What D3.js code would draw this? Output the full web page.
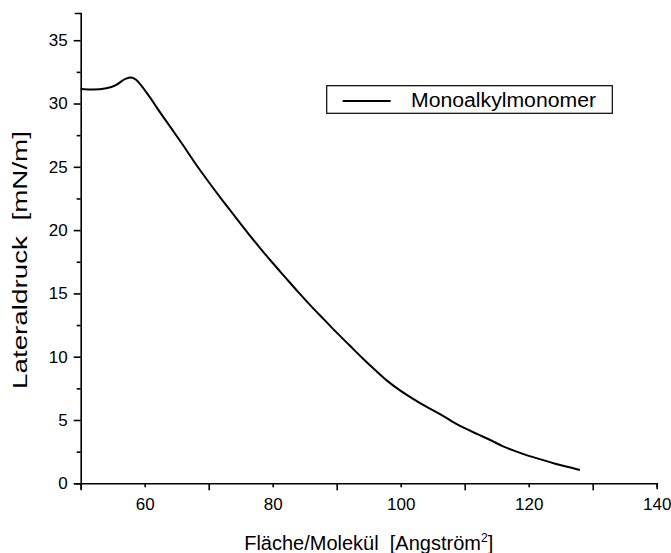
<!DOCTYPE html>
<html>
<head>
<meta charset="utf-8">
<script src="https://cdnjs.cloudflare.com/ajax/libs/d3/7.8.5/d3.min.js"></script>
<style>
  body { margin: 0; background: #fff; }
  text { font-family: "Liberation Sans", Arial, sans-serif; fill: #000; }
</style>
</head>
<body>
<div id="chart"></div>
<script>
// isotherm
var area = [50, 52, 54, 55.5, 57, 57.8, 58.6, 59.5, 60.8, 62, 64, 66, 68, 70, 72, 74, 76, 78, 80,
  82, 84, 86, 88, 90, 92, 94, 96, 98, 100, 102, 104, 106, 108, 110, 112, 114, 116, 118, 120,
  122, 124, 126, 128];
var pressure = [31.15, 31.1, 31.2, 31.45, 31.95, 32.05, 31.9, 31.4, 30.5, 29.6, 28.15, 26.7, 25.2,
  23.8, 22.45, 21.15, 19.85, 18.6, 17.4, 16.25, 15.1, 14.0, 12.95, 11.9, 10.9, 9.9, 8.95, 8.05,
  7.3, 6.65, 6.05, 5.5, 4.9, 4.35, 3.88, 3.42, 2.92, 2.52, 2.17, 1.87, 1.57, 1.3, 1.05];

var xTicks = [50, 60, 70, 80, 90, 100, 110, 120, 130, 140];
var xLabels = [60, 80, 100, 120, 140];
var yTicks = [0, 2.5, 5, 7.5, 10, 12.5, 15, 17.5, 20, 22.5, 25, 27.5, 30, 32.5, 35];
var yLabels = [0, 5, 10, 15, 20, 25, 30, 35];
var seriesName = ["Monoalkylmonomer"];

Isotherm = function(_parentElement) {
  this.parentElement = _parentElement;
  this.initVis();
};

Isotherm.prototype.initVis = function() {
  var vis = this;

  vis.margin = {top: 13, right: 14.3, bottom: 69.7, left: 80.7};
  vis.width = 671 - vis.margin.left - vis.margin.right;
  vis.height = 553 - vis.margin.top - vis.margin.bottom;

  vis.svg = d3.select(vis.parentElement).append("svg")
    .attr("width", 671)
    .attr("height", 553)
    .append("g")
    .attr("transform", "translate(" + vis.margin.left + "," + vis.margin.top + ")");

  vis.x = d3.scaleLinear().domain([50, 140]).range([0, vis.width]);
  vis.y = d3.scaleLinear().domain([0, 37.15]).range([vis.height, 0]);

  vis.data = area.map(function(a, i) { return {a: a, p: pressure[i]}; });

  // x axis: long ticks on the labelled values, short ones between
  vis.xAxis = vis.svg.append("g")
    .attr("transform", "translate(0," + vis.height + ")")
    .call(d3.axisBottom(vis.x).tickValues(xTicks).tickSizeOuter(0).tickPadding(9)
      .tickSize(6)
      .tickFormat(function(d) { return xLabels.indexOf(d) >= 0 ? d : ""; }));
  vis.xAxis.selectAll(".tick line")
    .attr("y2", function(d) { return (d - 50) % 20 === 10 ? 4 : 7; });

  vis.yAxis = vis.svg.append("g")
    .call(d3.axisLeft(vis.y).tickValues(yTicks).tickSizeOuter(0).tickPadding(7)
      .tickSize(6)
      .tickFormat(function(d) { return yLabels.indexOf(d) >= 0 ? d : ""; }));
  vis.yAxis.selectAll(".tick line")
    .attr("x2", function(d) { return d % 5 === 0 ? -7 : -4; });

  vis.svg.selectAll(".domain").attr("stroke-width", 1.6);
  vis.svg.selectAll(".tick line").attr("stroke-width", 1.6);
  vis.svg.selectAll(".tick text").style("font-size", "17px");
  vis.svg.selectAll(".domain, .tick line").attr("stroke", "#000");

  vis.svg.append("text")
    .attr("x", vis.width / 2)
    .attr("y", 537)
    .style("text-anchor", "middle")
    .style("font-size", "20px")
    .html("Fläche/Molekül&#160;&#160;[Angström<tspan dy='-8' style='font-size:12px'>2</tspan><tspan dy='8'>]</tspan>");

  // the original title is drawn wider than the font would make it
  vis.svg.append("text")
    .attr("transform", "translate(" + (27 - vis.margin.left) + "," + (260 - vis.margin.top) + ") rotate(-90)")
    .style("text-anchor", "middle")
    .style("font-size", "20px")
    .attr("textLength", 258)
    .attr("lengthAdjust", "spacingAndGlyphs")
    .text("Lateraldruck\u00a0\u00a0[mN/m]");

  vis.line = d3.line()
    .x(function(d) { return vis.x(d.a); })
    .y(function(d) { return vis.y(d.p); })
    .curve(d3.curveMonotoneX);

  vis.svg.append("path")
    .datum(vis.data)
    .attr("fill", "none")
    .attr("stroke", "#000")
    .attr("stroke-width", 2)
    .attr("d", vis.line);

  // legend
  vis.legend = vis.svg.append("g")
    .attr("transform", "translate(" + (326.7 - vis.margin.left) + "," + (85.7 - vis.margin.top) + ")");
  vis.legend.append("rect")
    .attr("width", 285.6).attr("height", 27.6)
    .attr("fill", "#fff").attr("stroke", "#000").attr("stroke-width", 1.2);
  vis.legend.append("line")
    .attr("x1", 16).attr("x2", 64).attr("y1", 15.3).attr("y2", 15.3)
    .attr("stroke", "#000").attr("stroke-width", 2);
  vis.legend.append("text")
    .attr("x", 84.3).attr("y", 21.6)
    .style("font-size", "20px")
    .attr("textLength", 185)
    .attr("lengthAdjust", "spacingAndGlyphs")
    .text(seriesName[0]);
};

new Isotherm("#chart");
</script>
</body>
</html>
